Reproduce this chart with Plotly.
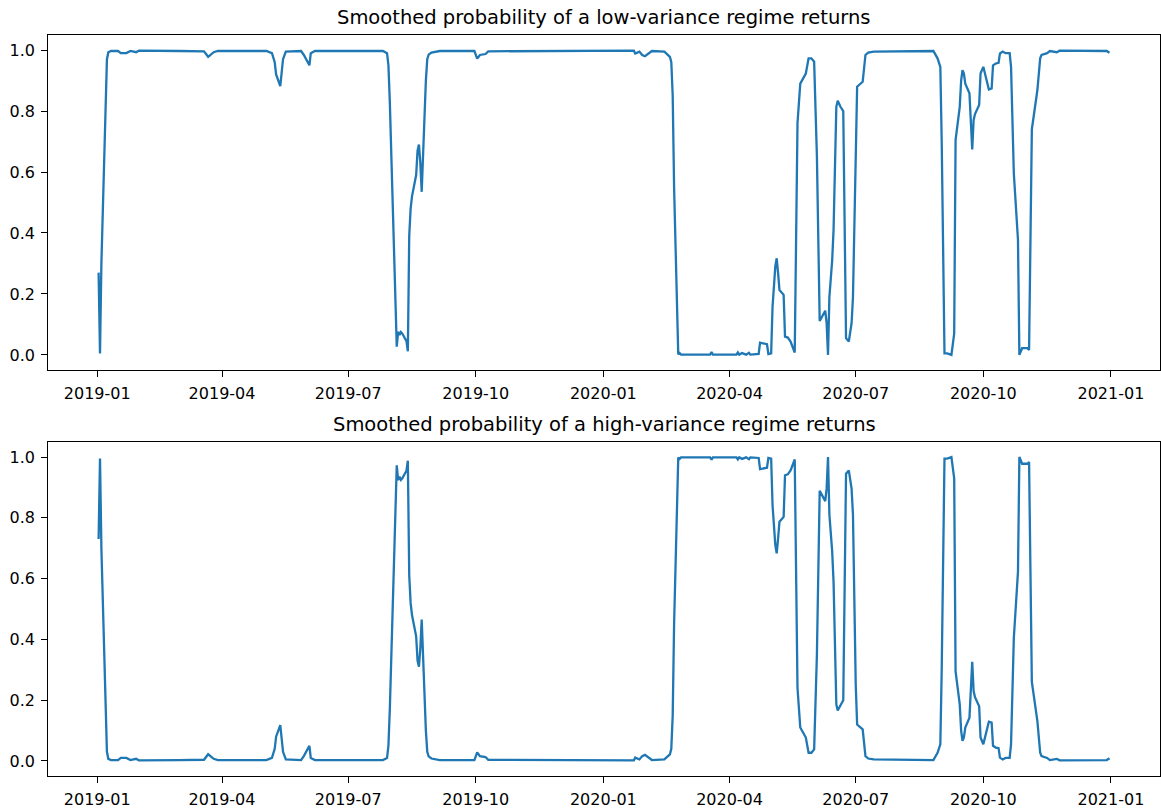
import plotly.graph_objects as go

dates = [
    "2019-01-02", "2019-01-03", "2019-01-04", "2019-01-07", "2019-01-08", "2019-01-09", "2019-01-11", "2019-01-16", "2019-01-18", "2019-01-22",
    "2019-01-25", "2019-01-29", "2019-01-31", "2019-03-01", "2019-03-19", "2019-03-22", "2019-03-26", "2019-03-29", "2019-05-03", "2019-05-07",
    "2019-05-09", "2019-05-10", "2019-05-13", "2019-05-15", "2019-05-17", "2019-05-28", "2019-05-30", "2019-06-03", "2019-06-04", "2019-06-07",
    "2019-07-26", "2019-07-29", "2019-07-30", "2019-07-31", "2019-08-05", "2019-08-06", "2019-08-07", "2019-08-08", "2019-08-09", "2019-08-12",
    "2019-08-13", "2019-08-14", "2019-08-15", "2019-08-16", "2019-08-19", "2019-08-20", "2019-08-21", "2019-08-22", "2019-08-23", "2019-08-26",
    "2019-08-27", "2019-08-28", "2019-08-30", "2019-09-05", "2019-09-30", "2019-10-02", "2019-10-04", "2019-10-08", "2019-10-10", "2020-01-23",
    "2020-01-24", "2020-01-27", "2020-01-29", "2020-01-31", "2020-02-03", "2020-02-05", "2020-02-14", "2020-02-18", "2020-02-19", "2020-02-20",
    "2020-02-21", "2020-02-24", "2020-02-25", "2020-02-26", "2020-03-18", "2020-03-19", "2020-03-20", "2020-04-06", "2020-04-07", "2020-04-08",
    "2020-04-10", "2020-04-13", "2020-04-15", "2020-04-16", "2020-04-22", "2020-04-23", "2020-04-28", "2020-04-29", "2020-05-01", "2020-05-02",
    "2020-05-04", "2020-05-05", "2020-05-06", "2020-05-07", "2020-05-10", "2020-05-11", "2020-05-13", "2020-05-15", "2020-05-18", "2020-05-19",
    "2020-05-20", "2020-05-22", "2020-05-24", "2020-05-26", "2020-05-28", "2020-05-30", "2020-06-01", "2020-06-02", "2020-06-03", "2020-06-05",
    "2020-06-07", "2020-06-09", "2020-06-10", "2020-06-11", "2020-06-12", "2020-06-14", "2020-06-15", "2020-06-17", "2020-06-18", "2020-06-20",
    "2020-06-22", "2020-06-24", "2020-06-26", "2020-06-28", "2020-06-29", "2020-07-01", "2020-07-02", "2020-07-06", "2020-07-08", "2020-07-10",
    "2020-07-14", "2020-08-26", "2020-08-29", "2020-08-31", "2020-09-01", "2020-09-03", "2020-09-05", "2020-09-08", "2020-09-10", "2020-09-11",
    "2020-09-14", "2020-09-15", "2020-09-16", "2020-09-17", "2020-09-18", "2020-09-21", "2020-09-22", "2020-09-23", "2020-09-24", "2020-09-25",
    "2020-09-28", "2020-09-29", "2020-10-01", "2020-10-03", "2020-10-05", "2020-10-07", "2020-10-08", "2020-10-10", "2020-10-12", "2020-10-13",
    "2020-10-15", "2020-10-17", "2020-10-20", "2020-10-21", "2020-10-23", "2020-10-26", "2020-10-27", "2020-10-29", "2020-11-02", "2020-11-03",
    "2020-11-05", "2020-11-09", "2020-11-11", "2020-11-12", "2020-11-16", "2020-11-18", "2020-11-23", "2020-11-25", "2020-12-29", "2020-12-31",
]

low_var = [
    0.27, 0.005, 0.30, 0.88, 0.97, 0.993, 0.997, 0.997, 0.99, 0.99,
    0.997, 0.993, 0.998, 0.997, 0.996, 0.978, 0.993, 0.997, 0.997, 0.99,
    0.96, 0.92, 0.882, 0.97, 0.995, 0.997, 0.984, 0.95, 0.99, 0.997,
    0.997, 0.99, 0.95, 0.83, 0.027, 0.076, 0.065, 0.075, 0.07, 0.045,
    0.012, 0.39, 0.48, 0.52, 0.59, 0.67, 0.69, 0.63, 0.535, 0.90,
    0.97, 0.985, 0.992, 0.997, 0.997, 0.972, 0.984, 0.987, 0.996, 0.998,
    0.989, 0.995, 0.984, 0.98, 0.99, 0.997, 0.995, 0.978, 0.96, 0.85,
    0.55, 0.002, 0.006, 0.001, 0.001, 0.009, 0.001, 0.001, 0.008, 0.001,
    0.006, 0.001, 0.007, 0.001, 0.003, 0.04, 0.035, 0.003, 0.005, 0.158,
    0.29, 0.317, 0.268, 0.213, 0.197, 0.06, 0.057, 0.044, 0.008, 0.377,
    0.76, 0.89, 0.907, 0.923, 0.973, 0.973, 0.962, 0.814, 0.65, 0.111,
    0.126, 0.145, 0.104, 0.0, 0.19, 0.31, 0.41, 0.814, 0.834, 0.814,
    0.80, 0.055, 0.044, 0.104, 0.19, 0.75, 0.88, 0.896, 0.984, 0.992,
    0.995, 0.997, 0.973, 0.945, 0.70, 0.005, 0.005, 0.0, 0.07, 0.705,
    0.814, 0.90, 0.934, 0.923, 0.89, 0.858, 0.77, 0.674, 0.77, 0.79,
    0.82, 0.923, 0.945, 0.907, 0.871, 0.874, 0.95, 0.956, 0.958, 0.989,
    0.995, 0.99, 0.99, 0.945, 0.596, 0.377, 0.0, 0.022, 0.022, 0.016,
    0.74, 0.869, 0.973, 0.984, 0.99, 0.997, 0.993, 0.998, 0.997, 0.991,
]

high_var = [
    0.73, 0.995, 0.70, 0.12, 0.03, 0.007, 0.003, 0.003, 0.01, 0.01,
    0.003, 0.007, 0.002, 0.003, 0.004, 0.022, 0.007, 0.003, 0.003, 0.01,
    0.04, 0.08, 0.118, 0.03, 0.005, 0.003, 0.016, 0.05, 0.01, 0.003,
    0.003, 0.01, 0.05, 0.17, 0.973, 0.924, 0.935, 0.925, 0.93, 0.955,
    0.988, 0.61, 0.52, 0.48, 0.41, 0.33, 0.31, 0.37, 0.465, 0.10,
    0.03, 0.015, 0.008, 0.003, 0.003, 0.028, 0.016, 0.013, 0.004, 0.002,
    0.011, 0.005, 0.016, 0.02, 0.01, 0.003, 0.005, 0.022, 0.04, 0.15,
    0.45, 0.998, 0.994, 0.999, 0.999, 0.991, 0.999, 0.999, 0.992, 0.999,
    0.994, 0.999, 0.993, 0.999, 0.997, 0.96, 0.965, 0.997, 0.995, 0.842,
    0.71, 0.683, 0.732, 0.787, 0.803, 0.94, 0.943, 0.956, 0.992, 0.623,
    0.24, 0.11, 0.093, 0.077, 0.027, 0.027, 0.038, 0.186, 0.35, 0.889,
    0.874, 0.855, 0.896, 1.0, 0.81, 0.69, 0.59, 0.186, 0.166, 0.186,
    0.20, 0.945, 0.956, 0.896, 0.81, 0.25, 0.12, 0.104, 0.016, 0.008,
    0.005, 0.003, 0.027, 0.055, 0.30, 0.995, 0.995, 1.0, 0.93, 0.295,
    0.186, 0.10, 0.066, 0.077, 0.11, 0.142, 0.23, 0.326, 0.23, 0.21,
    0.18, 0.077, 0.055, 0.093, 0.129, 0.126, 0.05, 0.044, 0.042, 0.011,
    0.005, 0.01, 0.01, 0.055, 0.404, 0.623, 1.0, 0.978, 0.978, 0.984,
    0.26, 0.131, 0.027, 0.016, 0.01, 0.003, 0.007, 0.002, 0.003, 0.009,
]

titles = [
    "Smoothed probability of a low-variance regime returns",
    "Smoothed probability of a high-variance regime returns",
]
y_ticks = [0.0, 0.2, 0.4, 0.6, 0.8, 1.0]

assert len(dates) == len(low_var) == len(high_var)

LINE_COLOR = "#1f77b4"
FONT = "DejaVu Sans"

fig = go.Figure()
fig.add_trace(go.Scatter(x=dates, y=low_var, mode="lines",
                         line=dict(color=LINE_COLOR, width=2.3),
                         xaxis="x", yaxis="y", showlegend=False))
fig.add_trace(go.Scatter(x=dates, y=high_var, mode="lines",
                         line=dict(color=LINE_COLOR, width=2.3),
                         xaxis="x2", yaxis="y2", showlegend=False))

W, H = 1161, 810
ml, mr, mt, mb = 48, 1, 35, 34
plot_h = H - mt - mb
top_dom = [(H - mb - 370) / plot_h, 1.0]
bot_dom = [0.0, (H - mb - 442) / plot_h]

xrange_ = ["2018-11-26 12:00", "2021-02-05 10:00"]

xcommon = dict(
    type="date", range=xrange_, dtick="M3", tick0="2019-01-01", tickformat="%Y-%m",
    showgrid=False, zeroline=False, showline=True, mirror=True,
    linecolor="black", linewidth=1.3, ticks="outside", ticklen=5.7, tickwidth=1.3,
    tickcolor="black", tickfont=dict(family=FONT, size=16, color="black"),
    ticklabelstandoff=3,
)
ycommon = dict(
    range=[-0.0495, 1.0495], tickvals=y_ticks, tickformat=".1f",
    showgrid=False, zeroline=False, showline=True, mirror=True,
    linecolor="black", linewidth=1.3, ticks="outside", ticklen=5.7, tickwidth=1.3,
    tickcolor="black", tickfont=dict(family=FONT, size=16, color="black"),
    ticklabelstandoff=3,
)

fig.update_layout(
    width=W, height=H,
    margin=dict(l=ml, r=mr, t=mt, b=mb),
    paper_bgcolor="white", plot_bgcolor="white",
    font=dict(family=FONT, color="black"),
    xaxis=dict(**xcommon, domain=[0, 1], anchor="y"),
    yaxis=dict(**ycommon, domain=top_dom, anchor="x"),
    xaxis2=dict(**xcommon, domain=[0, 1], anchor="y2"),
    yaxis2=dict(**ycommon, domain=bot_dom, anchor="x2"),
    annotations=[
        dict(text=titles[0], x=0.5, xref="paper", y=top_dom[1], yref="paper",
             xanchor="center", yanchor="bottom", yshift=4, showarrow=False,
             font=dict(family=FONT, size=19.5, color="black")),
        dict(text=titles[1], x=0.5, xref="paper", y=bot_dom[1], yref="paper",
             xanchor="center", yanchor="bottom", yshift=4, showarrow=False,
             font=dict(family=FONT, size=19.5, color="black")),
    ],
)

fig.write_html("out.html")
